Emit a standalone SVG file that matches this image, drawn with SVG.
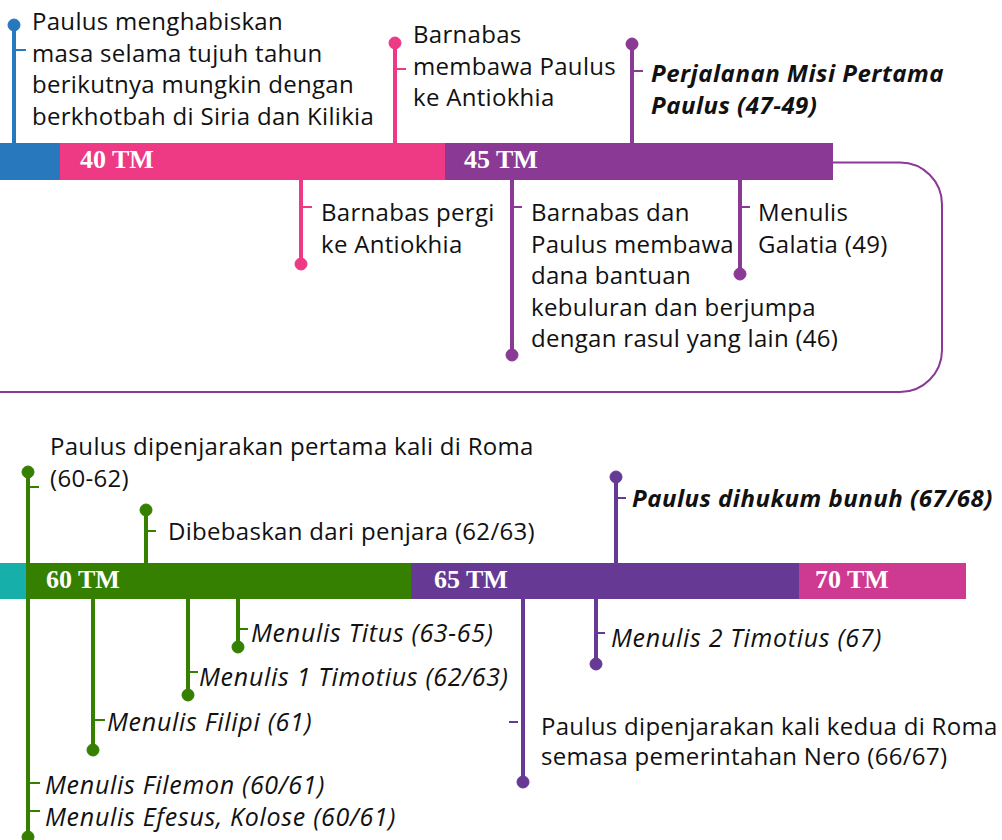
<svg xmlns="http://www.w3.org/2000/svg" width="1002" height="840" viewBox="0 0 1002 840">
<style>
.t{font-family:"Open Sans","Noto Sans",sans-serif;font-size:24px;letter-spacing:0.3px;fill:#111;stroke:none}
.i{font-style:italic;font-size:25px;letter-spacing:0.7px}
.b{font-weight:bold;font-size:24px;letter-spacing:0.5px}
.yr{font-family:"Liberation Serif",serif;font-weight:bold;font-size:26px;fill:#fff}
.st{stroke-width:4;fill:none}
.tk{stroke-width:2;fill:none}
.blue line,.blue circle{stroke:#2878BE;fill:#2878BE}
.pink line,.pink circle{stroke:#EE3A84;fill:#EE3A84}
.pur line,.pur circle{stroke:#8A3A94;fill:#8A3A94}
.grn line,.grn circle{stroke:#358000;fill:#358000}
.vio line,.vio circle{stroke:#663A94;fill:#663A94}
</style>
<rect width="1002" height="840" fill="#fff"/>
<g id="connectors">
<path d="M833 162.5 H900 A42 42 0 0 1 942 204.5 V350 A42 42 0 0 1 900 392 H0" fill="none" stroke="#8A3A94" stroke-width="2"/>
</g>
<g id="bar-top">
<rect x="0" y="143" width="60" height="37" fill="#2878BE"/>
<rect x="60" y="143" width="385" height="37" fill="#EE3A84"/>
<rect x="445" y="143" width="388" height="37" fill="#8A3A94"/>
<text class="yr" x="80" y="168">40 TM</text>
<text class="yr" x="464" y="168">45 TM</text>
</g>
<g id="bar-bottom">
<rect x="0" y="563" width="27" height="36" fill="#17AFAA"/>
<rect x="27" y="563" width="384" height="36" fill="#358000"/>
<rect x="411" y="563" width="388" height="36" fill="#663A94"/>
<rect x="799" y="563" width="167" height="36" fill="#CE3A92"/>
<text class="yr" x="46" y="588">60 TM</text>
<text class="yr" x="434" y="588">65 TM</text>
<text class="yr" x="815" y="588">70 TM</text>
</g>
<g id="ev-tujuh-tahun" class="blue">
<line class="st" x1="14" y1="25" x2="14" y2="143"/><circle cx="14" cy="25" r="6"/><line class="tk" x1="14" y1="50" x2="26" y2="50"/>
<text class="t" x="32" y="30"><tspan x="32">Paulus menghabiskan</tspan><tspan x="32" dy="31.7">masa selama tujuh tahun</tspan><tspan x="32" dy="31.7">berikutnya mungkin dengan</tspan><tspan x="32" dy="31.7">berkhotbah di Siria dan Kilikia</tspan></text>
</g>
<g id="ev-barnabas-membawa" class="pink">
<line class="st" x1="395" y1="43" x2="395" y2="143"/><circle cx="395" cy="43" r="6"/><line class="tk" x1="395" y1="69" x2="406" y2="69"/>
<text class="t" x="413" y="43"><tspan x="413">Barnabas</tspan><tspan x="413" dy="31.5">membawa Paulus</tspan><tspan x="413" dy="31.5">ke Antiokhia</tspan></text>
</g>
<g id="ev-misi-pertama" class="pur">
<line class="st" x1="632" y1="44" x2="632" y2="143"/><circle cx="632" cy="44" r="6"/><line class="tk" x1="632" y1="71" x2="643" y2="71"/>
<text class="t i b" x="651" y="82"><tspan x="651">Perjalanan Misi Pertama</tspan><tspan x="651" dy="31.5">Paulus (47-49)</tspan></text>
</g>
<g id="ev-barnabas-pergi" class="pink">
<line class="st" x1="301" y1="180" x2="301" y2="264"/><circle cx="301" cy="264" r="6"/><line class="tk" x1="301" y1="207" x2="312" y2="207"/>
<text class="t" x="321" y="221"><tspan x="321">Barnabas pergi</tspan><tspan x="321" dy="31.5">ke Antiokhia</tspan></text>
</g>
<g id="ev-dana-bantuan" class="pur">
<line class="st" x1="512" y1="180" x2="512" y2="355"/><circle cx="512" cy="355" r="6"/><line class="tk" x1="512" y1="207" x2="522" y2="207"/>
<text class="t" x="531" y="221"><tspan x="531">Barnabas dan</tspan><tspan x="531" dy="31.5">Paulus membawa</tspan><tspan x="531" dy="31.5">dana bantuan</tspan><tspan x="531" dy="31.5">kebuluran dan berjumpa</tspan><tspan x="531" dy="31.5">dengan rasul yang lain (46)</tspan></text>
</g>
<g id="ev-galatia" class="pur">
<line class="st" x1="740" y1="180" x2="740" y2="274"/><circle cx="740" cy="274" r="6"/><line class="tk" x1="740" y1="207" x2="750" y2="207"/>
<text class="t" x="758" y="221"><tspan x="758">Menulis</tspan><tspan x="758" dy="31.5">Galatia (49)</tspan></text>
</g>
<g id="ev-penjara-pertama" class="grn">
<line class="st" x1="28" y1="472" x2="28" y2="840"/><circle cx="28" cy="472" r="6"/><circle cx="28" cy="837" r="6"/>
<line class="tk" x1="28" y1="487" x2="39" y2="487"/>
<text class="t" x="50" y="455"><tspan x="50">Paulus dipenjarakan pertama kali di Roma</tspan><tspan x="50" dy="32">(60-62)</tspan></text>
<line class="tk" x1="28" y1="783" x2="40" y2="783"/><line class="tk" x1="28" y1="811" x2="40" y2="811"/>
<text class="t i" x="45" y="794">Menulis Filemon (60/61)</text>
<text class="t i" x="45" y="826">Menulis Efesus, Kolose (60/61)</text>
</g>
<g id="ev-dibebaskan" class="grn">
<line class="st" x1="146" y1="510" x2="146" y2="563"/><circle cx="146" cy="510" r="6"/><line class="tk" x1="146" y1="531" x2="156" y2="531"/>
<text class="t" x="168" y="540">Dibebaskan dari penjara (62/63)</text>
</g>
<g id="ev-filipi" class="grn">
<line class="st" x1="93" y1="599" x2="93" y2="750"/><circle cx="93" cy="750" r="6"/><line class="tk" x1="93" y1="720" x2="105" y2="720"/>
<text class="t i" x="107" y="731">Menulis Filipi (61)</text>
</g>
<g id="ev-1timotius" class="grn">
<line class="st" x1="188" y1="599" x2="188" y2="695"/><circle cx="188" cy="695" r="6"/><line class="tk" x1="188" y1="672" x2="198" y2="672"/>
<text class="t i" x="199" y="686">Menulis 1 Timotius (62/63)</text>
</g>
<g id="ev-titus" class="grn">
<line class="st" x1="238" y1="599" x2="238" y2="647"/><circle cx="238" cy="647" r="6"/><line class="tk" x1="238" y1="629" x2="248" y2="629"/>
<text class="t i" x="251" y="642">Menulis Titus (63-65)</text>
</g>
<g id="ev-dihukum" class="vio">
<line class="st" x1="616" y1="477" x2="616" y2="563"/><circle cx="616" cy="477" r="6"/><line class="tk" x1="616" y1="498" x2="626" y2="498"/>
<text class="t i b" x="632" y="507">Paulus dihukum bunuh (67/68)</text>
</g>
<g id="ev-penjara-kedua" class="vio">
<line class="st" x1="523" y1="599" x2="523" y2="782"/><circle cx="523" cy="782" r="6"/><line class="tk" x1="509" y1="722" x2="518" y2="722"/>
<text class="t" x="541" y="735"><tspan x="541">Paulus dipenjarakan kali kedua di Roma</tspan><tspan x="541" dy="30">semasa pemerintahan Nero (66/67)</tspan></text>
</g>
<g id="ev-2timotius" class="vio">
<line class="st" x1="596" y1="599" x2="596" y2="664"/><circle cx="596" cy="664" r="6"/><line class="tk" x1="596" y1="633" x2="605" y2="633"/>
<text class="t i" x="611" y="647">Menulis 2 Timotius (67)</text>
</g>
</svg>
